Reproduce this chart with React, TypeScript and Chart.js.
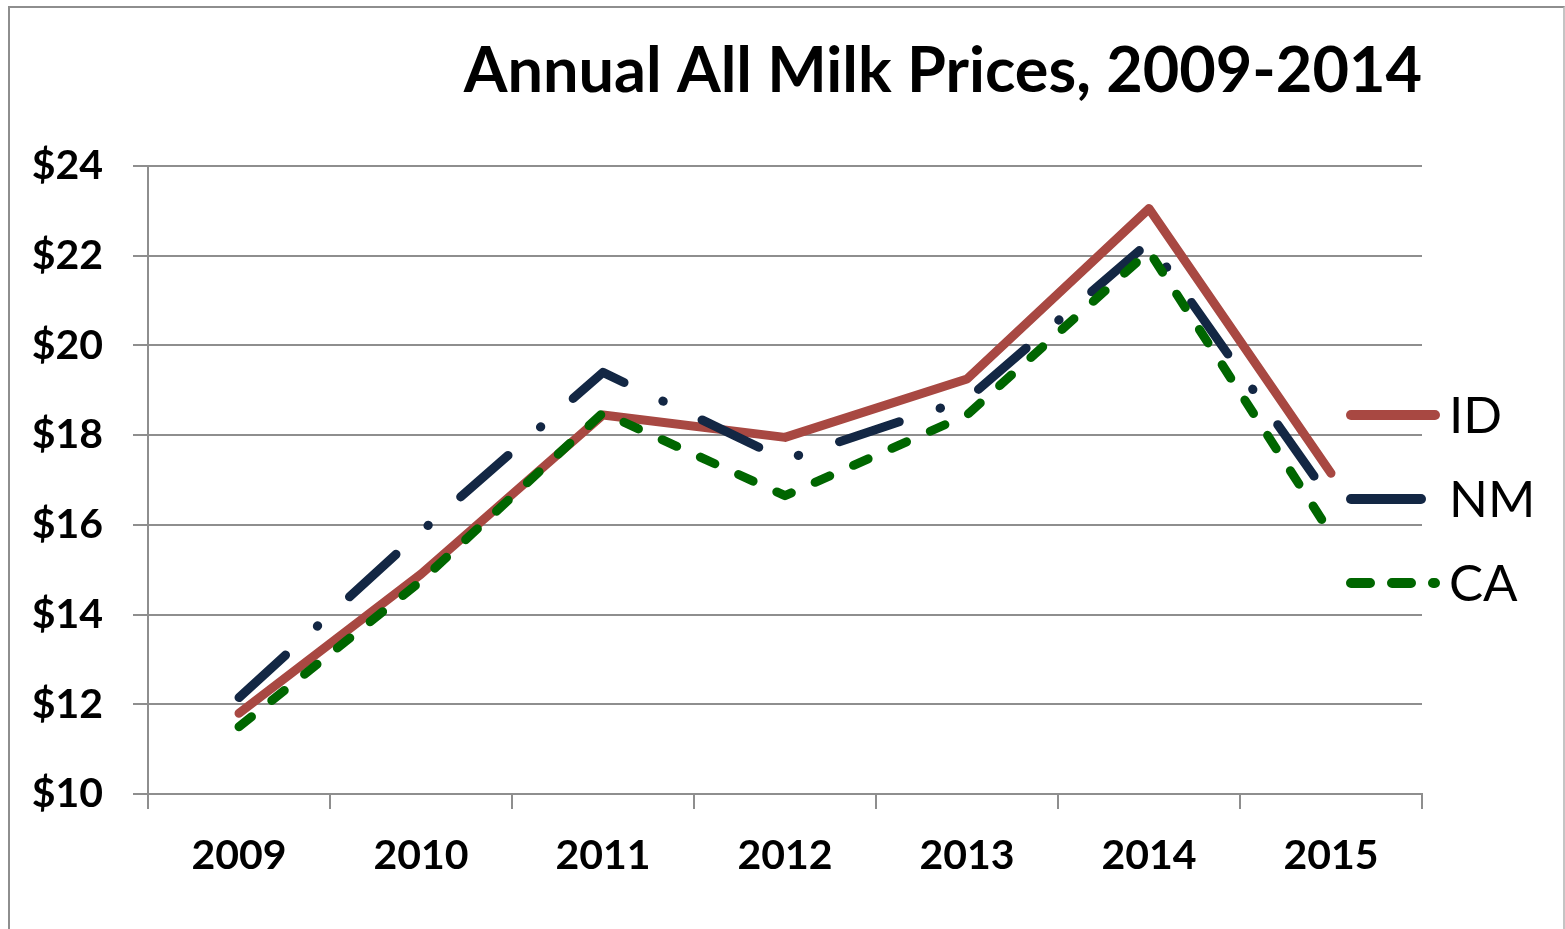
import React, { useEffect, useRef } from "react";
import { Chart, registerables } from "chart.js";

Chart.register(...registerables);

const TITLE = "Annual All Milk Prices, 2009-2014";
const YEARS = ["2009", "2010", "2011", "2012", "2013", "2014", "2015"];
const ID_PRICES = [11.8, 14.9, 18.45, 17.95, 19.25, 23.05, 17.15];
const NM_PRICES = [12.15, 15.85, 19.4, 17.45, 18.8, 22.3, 16.55];
const CA_PRICES = [11.5, 14.75, 18.5, 16.65, 18.45, 22.1, 15.8];
const SERIES_LABELS = ["ID", "NM", "CA"];
const Y_MIN = 10;
const Y_MAX = 24;
const Y_STEP = 2;

const GRID = "#8e8e8e";
const FONT = "Lato, 'Open Sans', sans-serif";

const sideLegend = {
  id: "sideLegend",
  afterDraw(chart: any) {
    const ctx = chart.ctx as CanvasRenderingContext2D;
    const rows = [415, 499, 583];
    chart.data.datasets.forEach((ds: any, i: number) => {
      const y = rows[i];
      ctx.save();
      ctx.strokeStyle = ds.borderColor;
      ctx.lineWidth = 10;
      ctx.lineCap = "round";
      ctx.setLineDash(ds.legendDash || []);
      ctx.beginPath();
      ctx.moveTo(1351, y);
      ctx.lineTo(1435, y);
      ctx.stroke();
      ctx.setLineDash([]);
      ctx.fillStyle = "#000";
      ctx.font = `51px ${FONT}`;
      ctx.textBaseline = "middle";
      ctx.textAlign = "left";
      ctx.fillText(ds.label, 1449, y + 2);
      ctx.restore();
    });
  },
};

export default function App() {
  const ref = useRef<HTMLCanvasElement | null>(null);

  useEffect(() => {
    if (!ref.current) return;
    const chart = new Chart(ref.current, {
      type: "line",
      data: {
        labels: YEARS,
        datasets: [
          {
            label: SERIES_LABELS[0],
            data: ID_PRICES,
            borderColor: "#A84842",
            backgroundColor: "#A84842",
            borderWidth: 9,
            borderCapStyle: "round",
            borderJoinStyle: "round",
            pointRadius: 0,
            tension: 0,
            order: 3,
            legendDash: [],
          } as any,
          {
            label: SERIES_LABELS[1],
            data: NM_PRICES,
            borderColor: "#132744",
            backgroundColor: "#132744",
            borderWidth: 9,
            borderDash: [63, 43, 0.5, 43],
            borderCapStyle: "round",
            borderJoinStyle: "round",
            pointRadius: 0,
            tension: 0,
            order: 2,
            legendDash: [70, 46, 0.5, 46],
          } as any,
          {
            label: SERIES_LABELS[2],
            data: CA_PRICES,
            borderColor: "#006600",
            backgroundColor: "#006600",
            borderWidth: 9,
            borderDash: [16, 26],
            borderCapStyle: "round",
            borderJoinStyle: "round",
            pointRadius: 0,
            tension: 0,
            order: 1,
            legendDash: [19, 22],
          } as any,
        ],
      },
      options: {
        responsive: false,
        animation: false,
        devicePixelRatio: 1,
        layout: { padding: { left: 0, top: 34, right: 143, bottom: 0 } },
        plugins: {
          legend: { display: false },
          tooltip: { enabled: false },
          title: {
            display: true,
            text: TITLE,
            align: "end",
            color: "#000",
            font: { family: FONT, size: 63, weight: "bold", lineHeight: 1.2 },
            padding: { top: 0, bottom: 56.4 },
          },
        },
        scales: {
          x: {
            type: "category",
            offset: true,
            grid: {
              display: true,
              offset: true,
              drawOnChartArea: false,
              drawTicks: true,
              tickLength: 15,
              color: GRID,
              lineWidth: 2,
            },
            border: { display: true, color: GRID, width: 2 },
            ticks: {
              color: "#000",
              font: { family: FONT, size: 41, weight: "bold" },
              padding: 22,
              maxRotation: 0,
              autoSkip: false,
            },
            afterFit: (scale: any) => {
              scale.height = 929 - 794;
            },
          },
          y: {
            min: Y_MIN,
            max: Y_MAX,
            grid: {
              color: GRID,
              lineWidth: 2,
              drawTicks: true,
              tickLength: 15,
            },
            border: { display: true, color: GRID, width: 2 },
            ticks: {
              stepSize: Y_STEP,
              color: "#000",
              font: { family: FONT, size: 41, weight: "bold" },
              padding: 30,
              callback: (v: any) => "$" + v,
            },
            afterFit: (scale: any) => {
              scale.width = 148;
            },
          },
        },
      },
      plugins: [sideLegend],
    });
    return () => chart.destroy();
  }, []);

  return (
    <div
      style={{
        position: "absolute",
        left: 0,
        top: 0,
        width: 1565,
        height: 929,
        overflow: "hidden",
        background: "#fff",
      }}
    >
      <canvas
        ref={ref}
        width={1565}
        height={929}
        style={{ position: "absolute", left: 0, top: 0, width: 1565, height: 929 }}
      />
      <div
        style={{
          position: "absolute",
          left: 8,
          top: 6,
          width: 1557,
          height: 1000,
          boxSizing: "border-box",
          borderLeft: "2px solid #8e8e8e",
          borderTop: "2px solid #8e8e8e",
          borderRight: "2px solid #c4c4c4",
          pointerEvents: "none",
        }}
      />
    </div>
  );
}
